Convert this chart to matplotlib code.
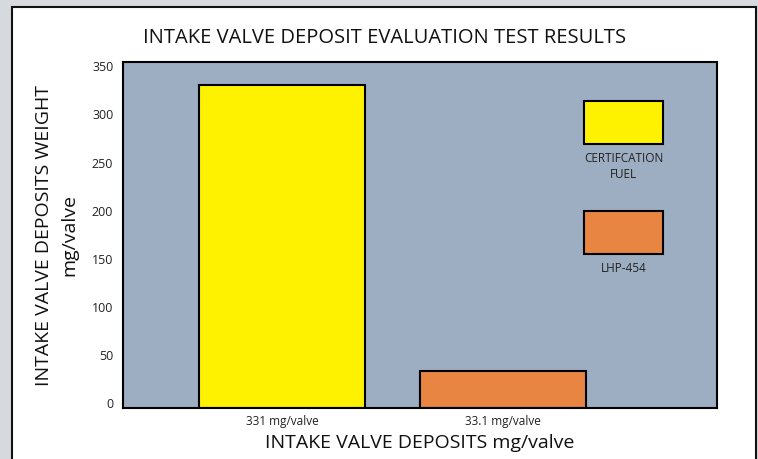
import matplotlib.pyplot as plt
from matplotlib.patches import Rectangle

categories = ["331 mg/valve", "33.1 mg/valve"]
values = [331, 33.1]
series_names = ["CERTIFCATION\nFUEL", "LHP-454"]
colors = ["#fff200", "#e88542"]
yticks = [0, 50, 100, 150, 200, 250, 300, 350]

plt.rcParams["font.family"] = ["Open Sans", "DejaVu Sans"]

fig = plt.figure(figsize=(7.58, 4.59), dpi=100)
fig.patch.set_facecolor("#d6d9dd")

# white panel behind the chart
panel = Rectangle((12 / 758, -0.05), 744 / 758, 1.05 - 7 / 459,
                  transform=fig.transFigure, facecolor="white",
                  edgecolor="#111111", linewidth=1.5, zorder=-1)
fig.patches.append(panel)

ax = fig.add_axes([123 / 758, 51 / 459, 594 / 758, 346 / 459])
ax.set_facecolor("#9dadc2")

ymin, ymax = -5, 354.5
x = list(range(len(values)))
ax.bar(x, [v - ymin for v in values], bottom=ymin, width=0.75,
       color=colors, edgecolor="black", linewidth=1.5, zorder=2)

ax.set_xlim(-0.72, 1.97)
ax.set_ylim(ymin, ymax)
ax.set_xticks(x)
ax.set_xticklabels(categories, fontsize=8.5, color="#222222")
ax.set_yticks(yticks)
ax.set_yticklabels([str(t) for t in yticks], fontsize=9, color="#222222")
ax.tick_params(length=0, pad=5)
ax.tick_params(axis="y", pad=7)

for s in ax.spines.values():
    s.set_linewidth(1.5)
    s.set_color("black")

ax.set_xlabel("INTAKE VALVE DEPOSITS mg/valve", fontsize=14, labelpad=4,
              color="#111111")
ax.set_ylabel("INTAKE VALVE DEPOSITS WEIGHT\nmg/valve", fontsize=14,
              labelpad=10, color="#111111", linespacing=1.5)
fig.text(0.507, 0.918, "INTAKE VALVE DEPOSIT EVALUATION TEST RESULTS",
         ha="center", va="center", fontsize=14.5, color="#111111")

# legend boxes
legend_y = [0.763, 0.445]
label_y = [0.699, 0.402]
for name, c, by, ly in zip(series_names, colors, legend_y, label_y):
    ax.add_patch(Rectangle((0.776, by), 0.133, 0.123, transform=ax.transAxes,
                           facecolor=c, edgecolor="black", linewidth=1.5,
                           zorder=3))
    ax.text(0.843, ly, name, transform=ax.transAxes, ha="center", va="center",
            fontsize=8.5, color="#222222", linespacing=1.3)

fig.savefig("out.png", dpi=100)
